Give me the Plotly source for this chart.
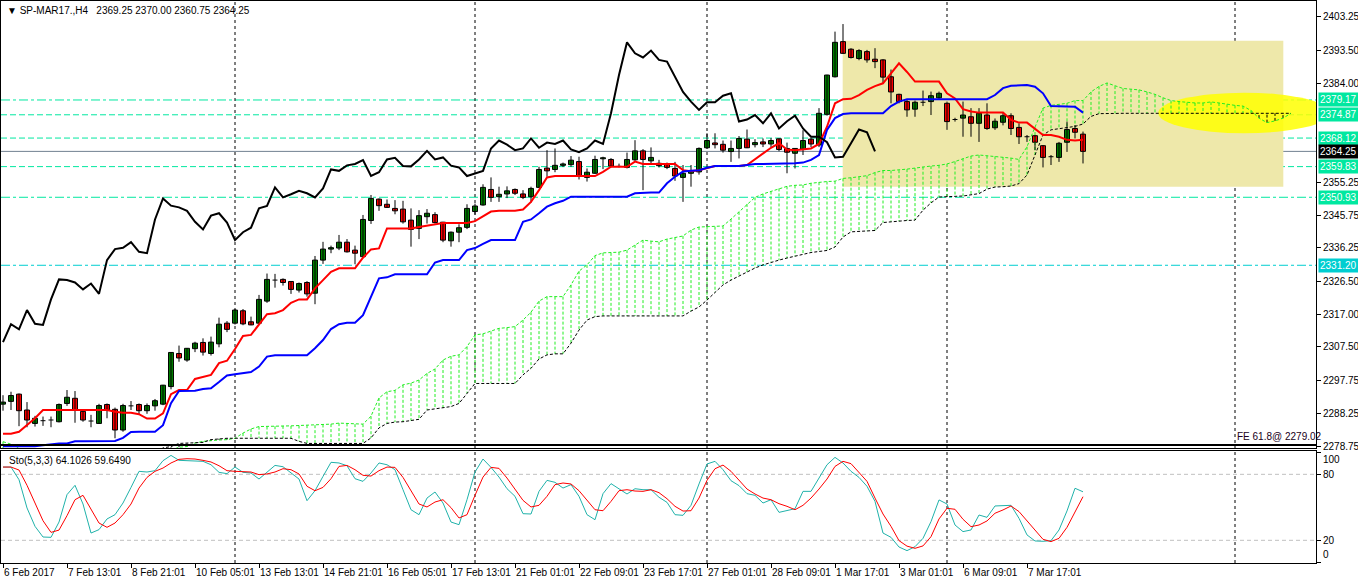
import plotly.graph_objects as go

# ---------------------------------------------------------------------------
# data (SP-MAR17, H4, 136 bars)
# ---------------------------------------------------------------------------
OPEN = [
    2290.9, 2291.7, 2293.8, 2289.2, 2285.3, 2286.1, 2286.3, 2285.8, 2291.1, 2292.6,
    2288.8, 2286.2, 2285.3, 2290.8, 2289.4, 2283.4, 2290.4, 2290.8, 2289.0, 2290.4,
    2290.9, 2296.0, 2305.6, 2303.7, 2307.0, 2308.8, 2305.6, 2308.4, 2314.4, 2314.4,
    2318.0, 2314.8, 2314.4, 2320.8, 2326.9, 2327.1, 2326.5, 2324.0, 2326.2, 2323.1,
    2332.7, 2335.9, 2336.2, 2337.9, 2335.6, 2333.7, 2344.2, 2350.4, 2348.9, 2347.7,
    2347.5, 2344.3, 2341.9, 2345.3, 2345.9, 2343.7, 2338.3, 2340.8, 2342.2, 2346.8,
    2348.7, 2353.2, 2351.1, 2351.9, 2353.2, 2351.9, 2351.1, 2353.8, 2359.4, 2359.0,
    2360.2, 2360.4, 2361.3, 2356.7, 2357.9, 2362.1, 2361.9, 2359.8, 2359.6, 2361.8,
    2364.4, 2361.5, 2360.8, 2360.6, 2359.3, 2356.7, 2357.9, 2358.3, 2365.3, 2366.7,
    2366.3, 2364.2, 2365.1, 2367.8, 2366.2, 2367.0, 2366.4, 2367.9, 2365.1, 2363.7,
    2364.9, 2367.8, 2366.1, 2375.0, 2385.9, 2396.1, 2393.9, 2391.2, 2393.2, 2391.0,
    2390.8, 2385.9, 2380.8, 2378.7, 2376.5, 2378.5, 2378.7, 2379.8, 2378.2, 2373.5,
    2373.9, 2374.3, 2372.4, 2374.8, 2371.1, 2372.7, 2374.6, 2371.2, 2368.5, 2368.8,
    2365.9, 2362.7, 2362.5, 2366.9, 2370.9, 2369.25,
]
HIGH = [
    2293.5, 2294.5, 2294.0, 2291.5, 2287.5, 2287.3, 2287.3, 2291.1, 2295.0, 2294.7,
    2289.2, 2287.8, 2291.0, 2291.1, 2289.9, 2291.0, 2291.8, 2291.1, 2291.1, 2292.4,
    2296.5, 2306.0, 2307.9, 2307.2, 2309.0, 2310.0, 2310.5, 2316.0, 2315.0, 2318.5,
    2318.5, 2316.3, 2322.6, 2328.8, 2328.7, 2327.4, 2326.6, 2326.2, 2326.6, 2333.9,
    2338.0, 2336.9, 2340.0, 2338.8, 2336.9, 2345.8, 2351.6, 2350.6, 2350.3, 2350.1,
    2349.9, 2347.7, 2347.2, 2347.5, 2346.6, 2343.8, 2341.0, 2343.1, 2348.9, 2349.1,
    2354.7, 2356.7, 2354.0, 2354.1, 2353.5, 2353.0, 2354.0, 2359.8, 2364.6, 2365.1,
    2361.0, 2362.9, 2362.7, 2359.3, 2363.0, 2362.7, 2362.3, 2360.7, 2363.9, 2367.5,
    2364.9, 2365.4, 2361.8, 2361.0, 2361.2, 2360.3, 2360.3, 2365.4, 2369.5, 2369.5,
    2367.4, 2367.4, 2368.7, 2370.6, 2367.8, 2368.0, 2368.1, 2368.0, 2366.8, 2365.2,
    2370.4, 2368.2, 2376.8, 2386.5, 2399.0, 2401.2, 2394.2, 2393.9, 2393.7, 2394.2,
    2391.0, 2388.0, 2381.0, 2379.2, 2379.0, 2381.9, 2381.6, 2381.6, 2378.7, 2374.0,
    2378.7, 2376.8, 2376.8, 2378.2, 2373.8, 2375.6, 2375.3, 2372.4, 2369.0, 2369.0,
    2366.1, 2363.2, 2367.0, 2372.9, 2371.9, 2370.00,
]
LOW = [
    2289.0, 2289.2, 2284.5, 2284.2, 2284.4, 2284.6, 2284.2, 2285.6, 2290.4, 2285.5,
    2285.8, 2284.2, 2285.2, 2286.8, 2281.0, 2282.9, 2289.2, 2287.9, 2288.1, 2289.0,
    2290.6, 2295.2, 2303.2, 2303.2, 2306.0, 2305.0, 2305.0, 2307.4, 2311.8, 2314.0,
    2313.8, 2313.8, 2313.9, 2320.3, 2324.7, 2325.3, 2322.9, 2323.3, 2322.1, 2319.9,
    2331.6, 2334.7, 2335.6, 2334.9, 2331.5, 2333.5, 2343.2, 2347.0, 2347.9, 2346.0,
    2343.3, 2336.6, 2338.8, 2343.3, 2343.3, 2337.9, 2336.6, 2337.9, 2341.7, 2345.9,
    2348.5, 2349.6, 2349.6, 2350.7, 2351.6, 2350.4, 2349.4, 2353.6, 2356.9, 2358.2,
    2359.7, 2359.8, 2356.1, 2355.5, 2357.7, 2359.1, 2359.6, 2359.6, 2359.3, 2361.5,
    2353.0, 2360.3, 2359.6, 2359.1, 2355.7, 2349.6, 2354.0, 2357.5, 2365.1, 2365.1,
    2363.9, 2361.2, 2362.2, 2365.2, 2365.4, 2365.5, 2365.5, 2364.3, 2357.9, 2359.3,
    2363.2, 2365.5, 2365.5, 2374.6, 2385.7, 2392.5, 2391.2, 2390.7, 2390.0, 2388.4,
    2383.8, 2378.2, 2378.2, 2374.3, 2374.3, 2377.4, 2374.8, 2379.4, 2370.5, 2372.9,
    2368.5, 2368.5, 2367.0, 2370.5, 2370.5, 2371.8, 2369.0, 2366.4, 2367.0, 2364.6,
    2359.6, 2360.3, 2361.2, 2364.1, 2368.0, 2360.75,
]
CLOSE = [
    2291.5, 2293.4, 2289.0, 2286.3, 2286.8, 2286.1, 2286.3, 2290.8, 2292.9, 2289.2,
    2286.3, 2286.0, 2290.5, 2289.2, 2283.4, 2290.5, 2290.4, 2289.0, 2290.5, 2291.9,
    2296.4, 2305.9, 2304.3, 2307.1, 2308.6, 2306.0, 2308.9, 2314.1, 2312.6, 2318.2,
    2314.2, 2313.9, 2321.3, 2327.1, 2326.9, 2326.2, 2324.2, 2325.9, 2322.9, 2332.7,
    2335.9, 2336.3, 2337.9, 2335.1, 2334.7, 2344.5, 2350.6, 2348.5, 2348.0, 2347.0,
    2343.8, 2341.6, 2345.6, 2346.3, 2343.6, 2338.5, 2340.8, 2342.1, 2347.7, 2348.4,
    2353.8, 2350.9, 2351.8, 2352.8, 2352.1, 2350.9, 2353.5, 2359.0, 2358.6, 2360.2,
    2360.6, 2361.7, 2357.1, 2358.2, 2361.9, 2362.4, 2360.0, 2359.9, 2361.9, 2364.4,
    2361.9, 2362.5, 2360.1, 2359.6, 2357.1, 2357.9, 2358.6, 2365.1, 2367.4, 2366.2,
    2364.6, 2365.1, 2368.0, 2365.3, 2366.8, 2366.4, 2367.4, 2364.8, 2364.0, 2365.1,
    2367.4, 2366.4, 2375.3, 2386.4, 2395.9, 2392.7, 2391.5, 2393.5, 2390.8, 2390.3,
    2385.8, 2381.5, 2378.7, 2376.3, 2378.5, 2378.5, 2380.4, 2381.1, 2372.9, 2373.5,
    2374.8, 2372.4, 2375.3, 2370.9, 2373.0, 2374.6, 2370.9, 2368.5, 2368.5, 2366.9,
    2362.5, 2362.7, 2366.6, 2370.6, 2369.8, 2364.25,
]

TENKAN = [
    2282.3, 2282.3, 2282.9, 2284.8, 2286.8, 2289.2, 2289.2, 2289.2, 2289.2, 2289.2,
    2289.2, 2289.2, 2289.2, 2289.2, 2288.7, 2288.4, 2288.4, 2288.0, 2286.7, 2286.7,
    2288.2, 2293.8, 2295.0, 2295.0, 2298.2, 2298.7, 2299.4, 2302.8, 2303.5, 2306.9,
    2310.7, 2311.0, 2313.9, 2317.0, 2317.3, 2318.2, 2320.3, 2321.3, 2321.3, 2324.5,
    2326.9, 2329.3, 2330.3, 2330.3, 2330.3, 2333.4, 2335.8, 2336.1, 2341.9, 2341.9,
    2341.9, 2341.9, 2342.3, 2342.7, 2343.1, 2343.5, 2343.5, 2343.5, 2343.5, 2344.0,
    2345.5, 2346.8, 2347.0, 2347.0, 2347.0, 2347.4, 2349.6, 2353.0, 2356.7, 2357.1,
    2357.1, 2357.1, 2357.1, 2357.1, 2357.1, 2358.3, 2359.8, 2359.8, 2359.8, 2361.3,
    2360.6, 2360.6, 2360.6, 2360.6, 2360.6, 2358.8, 2358.5, 2358.8, 2359.5, 2360.0,
    2360.0, 2360.0, 2360.0, 2360.3, 2361.9, 2363.7, 2365.3, 2366.6, 2364.8, 2364.6,
    2364.8, 2365.1, 2366.4, 2371.4, 2378.2, 2379.4, 2379.5, 2380.6, 2382.1, 2383.2,
    2384.0, 2386.9, 2389.8, 2387.3, 2384.5, 2384.5, 2384.5, 2384.5, 2381.1, 2379.6,
    2376.5, 2375.8, 2375.5, 2375.5, 2375.5, 2375.5, 2373.4, 2372.6, 2372.6, 2370.9,
    2369.0, 2369.0, 2368.5, 2367.6, 2367.4, 2367.6,
]
KIJUN = [
    2278.7, 2278.7, 2278.7, 2278.7, 2278.7, 2279.0, 2279.3, 2279.5, 2279.5, 2280.1,
    2280.1, 2280.1, 2280.1, 2280.1, 2280.2, 2281.1, 2282.8, 2282.9, 2282.9, 2282.9,
    2284.8, 2291.2, 2294.7, 2294.8, 2294.8, 2295.3, 2295.5, 2297.3, 2299.2, 2299.6,
    2299.8, 2300.2, 2301.8, 2304.7, 2305.1, 2305.1, 2305.1, 2305.1, 2305.1, 2307.1,
    2309.5, 2312.7, 2314.1, 2314.5, 2314.5, 2316.7, 2322.1, 2327.4, 2327.7, 2328.6,
    2328.6, 2328.6, 2328.6, 2328.6, 2332.0, 2332.7, 2332.7, 2332.7, 2335.6, 2336.2,
    2337.4, 2338.5, 2338.5, 2338.5, 2338.5, 2343.8, 2344.5, 2346.3, 2348.2, 2349.2,
    2349.9, 2351.1, 2351.1, 2351.1, 2351.1, 2351.1, 2351.1, 2351.1, 2351.1, 2352.1,
    2352.3, 2352.3, 2352.3, 2355.0, 2356.9, 2358.4, 2358.6, 2358.8, 2359.5, 2360.0,
    2360.0, 2360.0, 2360.0, 2360.3, 2360.6, 2360.6, 2360.6, 2360.6, 2360.6, 2360.8,
    2361.0, 2361.8, 2363.2, 2370.5, 2373.9, 2375.1, 2375.3, 2375.3, 2375.3, 2375.3,
    2375.3, 2377.4, 2378.7, 2379.4, 2379.4, 2379.4, 2379.4, 2379.4, 2379.4, 2379.4,
    2379.4, 2379.4, 2379.4, 2379.4, 2380.6, 2382.6, 2383.3, 2383.5, 2383.5, 2383.0,
    2381.1, 2377.4, 2377.4, 2377.4, 2377.2, 2375.5,
]
# senkou spans, already shifted 26 bars ahead (162 points)
SPAN_A = [
    2280.0, 2279.3, 2278.0, 2277.0, 2277.0, 2277.0, 2277.0, 2277.0, 2277.0, 2277.0,
    2277.0, 2277.0, 2277.0, 2277.0, 2277.0, 2277.0, 2277.0, 2277.0, 2277.0, 2277.0,
    2277.0, 2277.5, 2278.4, 2278.6, 2279.6, 2280.1, 2280.4, 2280.5, 2280.6, 2281.0,
    2282.5, 2283.7, 2284.4, 2284.4, 2284.5, 2284.6, 2284.6, 2284.7, 2284.8, 2284.8,
    2285.0, 2285.1, 2285.4, 2285.3, 2285.1, 2285.1, 2287.4, 2292.7, 2294.5, 2294.9,
    2296.5, 2297.0, 2297.9, 2299.8, 2301.1, 2303.7, 2304.8, 2305.2, 2307.6, 2311.0,
    2311.3, 2312.0, 2312.9, 2313.1, 2313.4, 2315.3, 2317.6, 2320.8, 2322.1, 2322.1,
    2322.1, 2325.5, 2329.5, 2331.3, 2334.0, 2334.8, 2334.8, 2335.0, 2335.6, 2337.1,
    2338.5, 2338.2, 2338.0, 2338.8, 2339.3, 2339.7, 2341.4, 2342.3, 2342.4, 2342.4,
    2342.6, 2344.6, 2346.7, 2349.0, 2350.9, 2351.9, 2352.6, 2353.5, 2354.1, 2354.4,
    2354.5, 2355.0, 2355.3, 2355.5, 2355.6, 2356.4, 2356.6, 2356.8, 2357.2, 2358.1,
    2358.7, 2358.7, 2358.8, 2359.1, 2359.4, 2359.8, 2360.0, 2360.2, 2360.6, 2361.3,
    2362.2, 2362.9, 2363.2, 2363.0, 2362.8, 2362.6, 2362.3, 2361.9, 2365.6, 2371.3,
    2376.8, 2377.6, 2377.9, 2378.2, 2379.0, 2379.0, 2381.5, 2383.1, 2384.1, 2383.2,
    2382.5, 2382.3, 2382.1, 2381.5, 2380.8, 2379.8, 2379.0, 2378.7, 2378.4, 2378.3,
    2378.3, 2378.6, 2378.3, 2377.9, 2377.6, 2377.4, 2376.1, 2373.9, 2372.6, 2373.1,
    2373.9, 2375.3,
]
SPAN_B = [
    2276.5, 2276.5, 2276.5, 2276.5, 2276.5, 2276.5, 2276.5, 2276.5, 2276.5, 2276.5,
    2276.5, 2276.5, 2276.5, 2276.5, 2276.5, 2276.5, 2276.5, 2276.5, 2276.5, 2276.5,
    2278.2, 2278.6, 2279.5, 2279.6, 2279.7, 2279.8, 2280.6, 2280.9, 2281.0, 2281.0,
    2281.0, 2281.0, 2281.0, 2281.0, 2281.0, 2281.0, 2281.0, 2280.1, 2279.5, 2279.5,
    2279.5, 2279.5, 2279.5, 2279.5, 2279.5, 2279.5, 2281.1, 2284.0, 2285.3, 2285.7,
    2285.8, 2286.1, 2286.5, 2289.2, 2289.6, 2289.9, 2290.2, 2291.1, 2294.1, 2296.9,
    2296.9, 2296.9, 2296.9, 2296.9, 2296.9, 2299.4, 2301.3, 2304.0, 2305.2, 2305.5,
    2305.5, 2308.6, 2312.4, 2315.3, 2316.3, 2316.5, 2316.5, 2316.5, 2316.5, 2316.5,
    2316.5, 2316.5, 2316.5, 2316.5, 2316.5, 2316.5, 2317.9, 2319.1, 2321.1, 2323.4,
    2325.5, 2326.9, 2328.1, 2329.2, 2330.4, 2331.3, 2332.1, 2332.7, 2333.3, 2333.8,
    2334.5, 2334.9, 2335.2, 2335.5, 2336.5, 2339.4, 2340.9, 2341.0, 2341.1, 2341.3,
    2343.6, 2343.9, 2344.0, 2344.2, 2344.3, 2347.2, 2349.3, 2351.0, 2351.2, 2351.2,
    2351.3, 2351.6, 2352.0, 2353.3, 2353.9, 2354.0, 2354.2, 2354.9, 2357.4, 2363.2,
    2369.0, 2370.5, 2370.8, 2371.2, 2371.5, 2372.2, 2374.4, 2375.2, 2375.3, 2375.3,
    2375.3, 2375.3, 2375.3, 2375.3, 2375.3, 2375.3, 2375.3, 2375.3, 2375.3, 2375.3,
    2375.3, 2375.3, 2375.3, 2375.3, 2375.3, 2375.3, 2375.3, 2375.3, 2375.3, 2375.3,
    2375.3, 2375.3,
]
CHIKOU_SHIFT = 26

STO_K = [
    86.6, 86.6, 75.1, 49.4, 32.7, 23.0, 22.7, 36.6, 61.5, 70.0,
    53.0, 26.6, 29.7, 39.4, 43.3, 53.9, 68.1, 82.7, 82.1, 83.3,
    92.4, 97.2, 92.7, 92.4, 92.4, 91.8, 88.7, 81.8, 80.6, 86.6,
    81.8, 81.2, 75.7, 82.1, 88.1, 86.9, 81.2, 75.7, 56.0, 65.1,
    78.1, 90.9, 90.3, 87.8, 76.0, 73.6, 81.2, 90.3, 88.7, 84.2,
    66.0, 47.8, 43.3, 58.4, 63.9, 53.9, 36.6, 34.2, 56.9, 82.1,
    93.9, 86.3, 77.5, 66.9, 60.0, 44.2, 43.9, 64.5, 74.5, 72.7,
    67.5, 70.6, 60.0, 43.3, 38.7, 62.4, 71.5, 66.9, 62.1, 66.9,
    66.0, 66.0, 59.1, 54.5, 43.3, 42.7, 51.8, 71.2, 89.4, 91.8,
    84.2, 74.2, 69.7, 62.4, 60.9, 53.9, 56.9, 45.4, 47.2, 48.7,
    64.5, 64.5, 76.6, 88.7, 95.4, 90.3, 82.7, 77.2, 69.1, 55.4,
    26.6, 22.7, 13.9, 10.6, 14.2, 21.8, 37.0, 56.7, 53.0, 33.9,
    27.9, 29.4, 43.0, 40.9, 51.2, 51.8, 51.8, 40.0, 24.9, 19.4,
    19.1, 19.7, 29.4, 46.7, 67.3, 64.1026,
]
STO_D = [
    86.6, 86.6, 83.9, 70.0, 53.9, 37.8, 27.2, 29.3, 42.4, 56.9,
    60.9, 48.7, 35.7, 31.8, 35.7, 43.3, 53.0, 67.5, 77.2, 82.7,
    85.7, 90.3, 93.6, 94.2, 93.9, 92.7, 91.2, 87.8, 83.3, 82.7,
    82.7, 82.1, 79.7, 80.3, 82.1, 85.1, 84.2, 80.3, 69.1, 65.1,
    68.1, 76.0, 87.2, 88.1, 84.2, 79.1, 78.4, 83.3, 86.6, 86.3,
    77.2, 65.1, 53.0, 50.3, 54.8, 56.9, 49.7, 40.3, 43.3, 60.9,
    77.5, 86.3, 85.4, 76.6, 66.0, 56.3, 50.3, 51.8, 60.0, 70.6,
    72.1, 71.2, 65.1, 56.3, 47.8, 46.9, 55.4, 65.1, 66.0, 64.8,
    64.5, 66.0, 63.3, 57.8, 50.9, 46.6, 46.9, 58.4, 74.5, 85.1,
    88.4, 82.7, 74.5, 66.6, 62.1, 58.4, 56.9, 53.3, 50.9, 47.8,
    51.8, 58.4, 66.6, 75.7, 87.2, 91.8, 89.7, 82.1, 73.6, 58.4,
    43.9, 32.7, 19.7, 14.7, 12.7, 14.9, 23.3, 39.4, 49.1, 48.2,
    39.1, 32.4, 33.9, 37.6, 44.6, 47.6, 51.2, 46.1, 37.6, 28.5,
    20.9, 18.8, 21.8, 31.8, 45.2, 59.6490,
]

DATE_BARS = [0, 8, 16, 24, 32, 40, 48, 56, 64, 72, 80, 88, 96, 104, 112, 120, 128]
DATE_LABELS = [
    "6 Feb 2017", "7 Feb 13:01", "8 Feb 21:01", "10 Feb 05:01", "13 Feb 13:01",
    "14 Feb 21:01", "16 Feb 05:01", "17 Feb 13:01", "21 Feb 01:01", "22 Feb 09:01",
    "23 Feb 17:01", "27 Feb 01:01", "28 Feb 09:01", "1 Mar 17:01", "3 Mar 01:01",
    "6 Mar 09:01", "7 Mar 17:01",
]
PRICE_TICKS = [2403.25, 2393.50, 2384.00, 2355.25, 2345.75, 2336.25, 2326.50,
               2317.00, 2307.50, 2297.75, 2288.25, 2278.75]
STO_TICKS = [0, 20, 80, 100]
GRID_BARS = [29, 59, 88, 118, 154]

LEVELS = [2379.17, 2374.87, 2368.12, 2359.83, 2350.93, 2331.20]
LAST_PRICE = 2364.25
FE_LEVEL = 2279.02

# zone box and target ellipse (bar index / price)
BOX = (104.96, 160.04, 2353.99, 2396.37)
ELLIPSE = (144.4, 165.9, 2369.5, 2381.3)

# ---------------------------------------------------------------------------
# styling
# ---------------------------------------------------------------------------
FONT = "Liberation Sans, Arial, sans-serif"
BULL = "#008000"
BEAR = "#ff0000"
SPRING = "#00e8a0"
TURQ = "#00ced1"
KUMO_UP = "#22ee22"
BODY_W = 0.62
X_RANGE = [-0.25, 164.125]


def _vsegments(xs, lo, hi):
    x, y = [], []
    for xi, a, b in zip(xs, lo, hi):
        x += [xi, xi, None]
        y += [a, b, None]
    return x, y


n = len(CLOSE)
bars = list(range(n))
fig = go.Figure()

# kumo hatching
up = [j for j in range(len(SPAN_A)) if SPAN_A[j] >= SPAN_B[j]]
dn = [j for j in range(len(SPAN_A)) if SPAN_A[j] < SPAN_B[j]]
hx, hy = _vsegments(up, [SPAN_A[j] for j in up], [SPAN_B[j] for j in up])
fig.add_trace(go.Scatter(x=hx, y=hy, mode="lines", line=dict(color=KUMO_UP, width=1, dash="3px,2px")))
hx, hy = _vsegments(dn, [SPAN_A[j] for j in dn], [SPAN_B[j] for j in dn])
fig.add_trace(go.Scatter(x=hx, y=hy, mode="lines", line=dict(color="black", width=1, dash="3px,2px")))
fig.add_trace(go.Scatter(x=list(range(len(SPAN_A))), y=SPAN_A, mode="lines",
                         line=dict(color=KUMO_UP, width=1, dash="3px,2px")))
fig.add_trace(go.Scatter(x=list(range(len(SPAN_B))), y=SPAN_B, mode="lines",
                         line=dict(color="black", width=1, dash="3px,2px")))

# candles
wx, wy = _vsegments(bars, LOW, HIGH)
fig.add_trace(go.Scatter(x=wx, y=wy, mode="lines", line=dict(color="black", width=1)))
bull = [i for i in bars if CLOSE[i] - OPEN[i] >= 0.2]
bear = [i for i in bars if OPEN[i] - CLOSE[i] >= 0.2]
doji = [i for i in bars if abs(CLOSE[i] - OPEN[i]) < 0.2]
fig.add_trace(go.Bar(x=bull, y=[CLOSE[i] - OPEN[i] for i in bull], base=[OPEN[i] for i in bull],
                     width=BODY_W, marker=dict(color=BULL, line=dict(color="black", width=1))))
fig.add_trace(go.Bar(x=bear, y=[OPEN[i] - CLOSE[i] for i in bear], base=[CLOSE[i] for i in bear],
                     width=BODY_W, marker=dict(color=BEAR, line=dict(color="black", width=1))))
dx, dy = [], []
for i in doji:
    dx += [i - BODY_W / 2, i + BODY_W / 2, None]
    dy += [CLOSE[i], CLOSE[i], None]
fig.add_trace(go.Scatter(x=dx, y=dy, mode="lines", line=dict(color="black", width=1)))

# ichimoku lines
fig.add_trace(go.Scatter(x=bars, y=TENKAN, mode="lines", line=dict(color="#ff0000", width=2)))
fig.add_trace(go.Scatter(x=bars, y=KIJUN, mode="lines", line=dict(color="#0000ff", width=2)))
fig.add_trace(go.Scatter(x=list(range(n - CHIKOU_SHIFT)), y=CLOSE[CHIKOU_SHIFT:], mode="lines",
                         line=dict(color="black", width=2)))

# stochastic
fig.add_trace(go.Scatter(x=bars, y=STO_K, mode="lines", line=dict(color="#20b2aa", width=1),
                         xaxis="x2", yaxis="y2"))
fig.add_trace(go.Scatter(x=bars, y=STO_D, mode="lines", line=dict(color="#ff0000", width=1),
                         xaxis="x2", yaxis="y2"))

shapes = [
    dict(type="rect", xref="x", yref="y", x0=BOX[0], x1=BOX[1], y0=BOX[2], y1=BOX[3],
         fillcolor="#eee8aa", line=dict(width=0), layer="below"),
    dict(type="circle", xref="x", yref="y", x0=ELLIPSE[0], x1=ELLIPSE[1], y0=ELLIPSE[2], y1=ELLIPSE[3],
         fillcolor="#ffff00", opacity=0.85, line=dict(width=0), layer="below"),
]
level_dash = ["dashdot", "6px,3px", "6px,3px", "6px,3px", "dashdot", "dashdot"]
level_col = [SPRING, SPRING, SPRING, SPRING, SPRING, TURQ]
for lv, ds, col in zip(LEVELS, level_dash, level_col):
    shapes.append(dict(type="line", xref="x domain", yref="y", x0=0, x1=1, y0=lv, y1=lv,
                       line=dict(color=col, width=1, dash=ds), layer="below"))
shapes.append(dict(type="line", xref="x domain", yref="y", x0=0, x1=1, y0=LAST_PRICE, y1=LAST_PRICE,
                   line=dict(color="#708090", width=1), layer="below"))
shapes.append(dict(type="line", xref="x domain", yref="y", x0=0, x1=1, y0=FE_LEVEL, y1=FE_LEVEL,
                   line=dict(color="black", width=2)))
for g in GRID_BARS:
    shapes.append(dict(type="line", xref="x", yref="paper", x0=g, x1=g, y0=0, y1=1,
                       line=dict(color="black", width=1, dash="3px,3px"), layer="below"))
for lv in (20, 80):
    shapes.append(dict(type="line", xref="x2 domain", yref="y2", x0=0, x1=1, y0=lv, y1=lv,
                       line=dict(color="#c0c0c0", width=1, dash="4px,3px"), layer="below"))

annotations = [
    dict(xref="paper", yref="paper", x=0, y=1, xanchor="left", yanchor="top", xshift=4, yshift=-2,
         showarrow=False, text="▼ SP-MAR17.,H4\u00a0\u00a0 2369.25 2370.00 2360.75 2364.25",
         font=dict(size=10, color="black")),
    dict(xref="paper", yref="y2 domain", x=0, y=1, xanchor="left", yanchor="top", xshift=6, yshift=-2,
         showarrow=False, text="Sto(5,3,3) 64.1026 59.6490", font=dict(size=10, color="black")),
    dict(xref="x", yref="y", x=GRID_BARS[-1], y=FE_LEVEL, xanchor="left", yanchor="bottom", yshift=1,
         showarrow=False, text="FE 61.8@ 2279.02", font=dict(size=10, color="#200020")),
    # end labels of the stochastic scale sit inside the panel, as in the terminal
    dict(xref="paper", yref="y2", x=1, y=STO_TICKS[-1], xanchor="left", yanchor="top", xshift=5,
         showarrow=False, text=str(STO_TICKS[-1]), font=dict(size=10, color="black")),
    dict(xref="paper", yref="y2", x=1, y=STO_TICKS[0], xanchor="left", yanchor="bottom", xshift=5,
         showarrow=False, text=str(STO_TICKS[0]), font=dict(size=10, color="black")),
]
for lv, col in zip(LEVELS, level_col):
    annotations.append(dict(xref="paper", yref="y", x=1, y=lv, xanchor="left", xshift=2,
                            showarrow=False, text=f"{lv:.2f}", bgcolor=col, borderpad=1,
                            font=dict(size=10, color="white")))
annotations.append(dict(xref="paper", yref="y", x=1, y=LAST_PRICE, xanchor="left", xshift=2,
                        showarrow=False, text=f"{LAST_PRICE:.2f}", bgcolor="black", borderpad=1,
                        font=dict(size=10, color="white")))

axis_common = dict(showgrid=False, zeroline=False, showline=True, mirror=True,
                   linecolor="black", linewidth=1, automargin=False)
sto_text = ["" if v in (STO_TICKS[0], STO_TICKS[-1]) else str(v) for v in STO_TICKS]
fig.update_layout(
    width=1358, height=584,
    margin=dict(l=1, r=42, t=1, b=21, autoexpand=False),
    paper_bgcolor="white", plot_bgcolor="white",
    font=dict(family=FONT, size=10, color="black"),
    showlegend=False, barmode="overlay", hovermode=False,
    xaxis=dict(domain=[0, 1], anchor="y", range=X_RANGE, showticklabels=False, ticks="", **axis_common),
    yaxis=dict(domain=[0.2046, 1], anchor="x", side="right", range=[2278.17, 2407.89],
               tickvals=PRICE_TICKS, ticktext=[f"{v:.2f}" for v in PRICE_TICKS],
               ticks="outside", ticklen=4, tickcolor="black", **axis_common),
    xaxis2=dict(domain=[0, 1], anchor="y2", matches="x", range=X_RANGE,
                tickvals=DATE_BARS, ticktext=DATE_LABELS, ticklabelposition="outside right",
                tickangle=0, ticks="outside", ticklen=4, tickcolor="black", **axis_common),
    yaxis2=dict(domain=[0, 0.1993], anchor="x2", side="right", range=[-0.64, 101.2],
                tickvals=STO_TICKS, ticktext=sto_text,
                ticks="outside", ticklen=4, tickcolor="black", **axis_common),
    shapes=shapes,
    annotations=annotations,
)

fig.write_html("out.html", config={"displayModeBar": False},
               post_script="document.body.style.margin='0';document.body.style.overflow='hidden';")
